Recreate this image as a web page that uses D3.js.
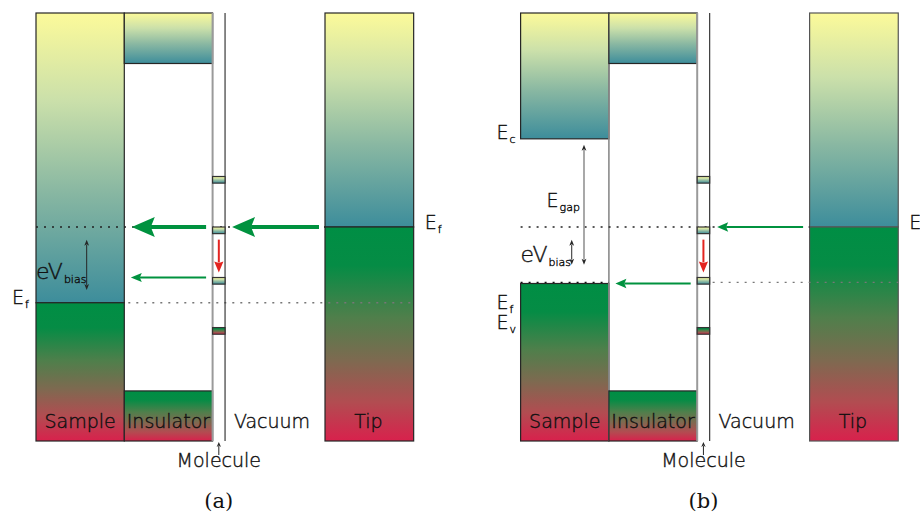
<!DOCTYPE html>
<html>
<head>
<meta charset="utf-8">
<script src="https://cdn.jsdelivr.net/npm/d3@7"></script>
<style>
  html, body { margin: 0; padding: 0; background: #fff; }
  svg { display: block; }
  text { font-family: "DejaVu Sans", "Liberation Sans", sans-serif; font-weight: 200; fill: #111; stroke: #111; stroke-width: 0.4px; }
  .cap { font-family: "DejaVu Serif", "Liberation Serif", serif; font-weight: 400; fill: #111; stroke: none; }
</style>
</head>
<body>
<svg id="chart" width="920" height="518"></svg>
<script>
// ---- Energy-level data (arbitrary energy units: 0 = bottom of diagram, 100 = top) ----
const layerNames   = ["Sample", "Insulator", "Vacuum", "Tip"];
const layerEdges   = [0, 1, 2, 2.141, 3.273, 4.277];   // sample | insulator | molecule | vacuum | tip (layer units)
const insulatorBands = [88.2, 11.7];                    // conduction-band bottom, valence-band top
const tipFermi     = 50.0;
const moleculeLevels   = [61.8, 50.0, 38.2, 26.5];      // level tops
const moleculeFilled   = [false, false, false, true];
const levelWidth   = 1.55;
const sampleFermiA = 32.3;                              // metal sample, panel (a)
const sampleBandsB = [70.6, 36.8];                      // semiconductor Ec, Ev (= Ef), panel (b)
const biasSpanA    = [47.0, 35.3];
const biasSpanB    = [47.0, 41.2];
const gapSpanB     = [69.2, 41.2];
const panelNames   = ["(a)", "(b)"];

const svg = d3.select("#chart");
const y = d3.scaleLinear().domain([0, 100]).range([441, 13]);
const x = d3.scaleLinear().domain([0, 1]).range([0, 88.3]);
const panelX = [36, 520.6];

// ---- gradients ----
const defs = svg.append("defs");
function grad(id, stops) {
  const g = defs.append("linearGradient").attr("id", id)
    .attr("x1", 0).attr("y1", 0).attr("x2", 0).attr("y2", 1);
  stops.forEach(([o, c]) => g.append("stop").attr("offset", o).attr("stop-color", c));
}
grad("empty", [[0, "#fcfa9a"], [0.3, "#cbe0aa"], [0.62, "#88b7a2"], [1, "#3d8d9b"]]);
grad("filled", [[0, "#008e44"], [0.18, "#058c45"], [0.42, "#4f7f4b"], [0.62, "#7d6a50"], [0.82, "#b24c51"], [1, "#d8214c"]]);

const dark = "#262626", grey = "#8a8a8a";
const green = "#00923f", red = "#e32420";

function box(g, x0, x1, top, bottom, fill, stroke = dark) {
  g.append("rect")
    .attr("x", x0).attr("y", y(top)).attr("width", x1 - x0).attr("height", y(bottom) - y(top))
    .attr("fill", `url(#${fill})`).attr("stroke", stroke).attr("stroke-width", 1.2);
}
function vline(g, xx, top, bottom, stroke, w) {
  g.append("line").attr("x1", xx).attr("x2", xx).attr("y1", y(top)).attr("y2", y(bottom))
    .attr("stroke", stroke).attr("stroke-width", w);
}
function dotted(g, x0, x1, e, stroke) {
  g.append("line").attr("x1", x0).attr("x2", x1).attr("y1", y(e)).attr("y2", y(e))
    .attr("stroke", stroke).attr("stroke-width", 1.3).attr("stroke-dasharray", "2,6");
}
// horizontal arrow pointing left, from xs to tip xt
function arrowLeft(g, xs, xt, e, w, len, half, notch, color) {
  const yy = y(e);
  g.append("line").attr("x1", xs).attr("x2", xt + len - notch).attr("y1", yy).attr("y2", yy)
    .attr("stroke", color).attr("stroke-width", w);
  g.append("path").attr("fill", color)
    .attr("d", `M${xt},${yy}L${xt + len},${yy - half}L${xt + len - notch},${yy}L${xt + len},${yy + half}Z`);
}
// vertical arrow with heads at the chosen ends (pixel coordinates)
function arrowV(g, xx, y0, y1, opts) {
  const { w = 1, len = 6, half = 2.4, color = dark, lineColor = color, start = false, end = true } = opts;
  const a = start ? y0 + Math.sign(y1 - y0) * (len - 1) : y0;
  const b = end ? y1 - Math.sign(y1 - y0) * (len - 1) : y1;
  g.append("line").attr("x1", xx).attr("x2", xx).attr("y1", a).attr("y2", b)
    .attr("stroke", lineColor).attr("stroke-width", w);
  const head = (tip, dir) => g.append("path").attr("fill", color)
    .attr("d", `M${xx},${tip}L${xx - half},${tip - dir * len}L${xx},${tip - dir * (len - 1.5)}L${xx + half},${tip - dir * len}Z`);
  if (end) head(y1, Math.sign(y1 - y0));
  if (start) head(y0, Math.sign(y0 - y1));
}
function label(g, xx, yy, main, sub, size, subSize, anchor = "start") {
  const t = g.append("text").attr("x", xx).attr("y", yy).attr("font-size", size).attr("text-anchor", anchor);
  t.append("tspan").text(main);
  if (sub) t.append("tspan").attr("font-size", subSize).attr("dx", 1).attr("dy", 4).text(sub);
  return t;
}

panelNames.forEach((name, p) => {
  const g = svg.append("g").attr("transform", `translate(${panelX[p]},0)`);
  const [xS0, xS1, xI1, xM1, xT0, xT1] = layerEdges.map(x);
  const xM0 = xI1;

  // ---- sample ----
  if (p === 0) {
    box(g, xS0, xS1, 100, sampleFermiA, "empty");
    box(g, xS0, xS1, sampleFermiA, 0, "filled");
  } else {
    box(g, xS0, xS1, 100, sampleBandsB[0], "empty");
    box(g, xS0, xS1, sampleBandsB[1], 0, "filled");
    vline(g, xS1, 100, 0, grey, 1.6);
  }

  // ---- insulator ----
  box(g, xS1, xI1, 100, insulatorBands[0], "empty");
  box(g, xS1, xI1, insulatorBands[1], 0, "filled");

  // ---- tip ----
  box(g, xT0, xT1, 100, tipFermi, "empty", p === 1 ? "#555" : dark);
  box(g, xT0, xT1, tipFermi, 0, "filled", p === 1 ? "#555" : dark);

  // ---- dotted reference lines ----
  if (p === 0) {
    dotted(g, xS0, xT0, tipFermi, "#222");
    dotted(g, xS1 + 4, xT1, sampleFermiA, "#777");
  } else {
    dotted(g, xS0, xT0, tipFermi, "#222");
    dotted(g, xS0, xS1, sampleBandsB[1] + 0.25, "#111");
    dotted(g, xM1 + 3, xT1, sampleBandsB[1] + 0.25, "#777");
  }

  // ---- molecule column and levels ----
  vline(g, xM0, 100, 0, "#9a9a9a", 2);
  vline(g, xM1, 100, 0, "#3a3a3a", 1.2);
  moleculeLevels.forEach((e, i) => {
    box(g, xM0, xM1, e, e - levelWidth, moleculeFilled[i] ? "filled" : "empty", "#333");
  });

  // ---- tunnelling arrows ----
  const xMid = (xM0 + xM1) / 2;
  if (p === 0) {
    arrowLeft(g, xM0 - 6.5, xS1 + 7.5, tipFermi, 4, 23, 10, 4, green);
    arrowLeft(g, xT0 - 6, xM1 + 7, tipFermi, 4, 23, 10, 4, green);
    arrowLeft(g, xM0 - 6.5, xS1 + 6.5, moleculeLevels[2], 2, 11, 4.6, 2, green);
  } else {
    arrowLeft(g, xT0 - 6.5, xM1 + 7.5, tipFermi, 2.2, 11, 4.8, 2, green);
    arrowLeft(g, xM0 - 6.5, xS1 + 6.5, sampleBandsB[1], 2.2, 11, 4.8, 2, green);
  }
  arrowV(g, xMid, y(moleculeLevels[1] - levelWidth) + 6, y(moleculeLevels[2]) - 5,
    { w: 2, len: 11, half: 4.6, color: red });

  // ---- energy annotations ----
  if (p === 0) {
    arrowV(g, x(0.574), y(biasSpanA[0]), y(biasSpanA[1]), { start: true, end: true });
    label(g, 0, 279, "eV", "bias", 22, 11);
    label(g, -24, 303.5, "E", "f", 19, 11);
    label(g, xT1 + 11, 228.5, "E", "f", 19, 11);
  } else {
    arrowV(g, x(0.718), y(gapSpanB[0]), y(gapSpanB[1]), { start: true, end: true, lineColor: "#8c8c8c", w: 1.5 });
    arrowV(g, x(0.579), y(biasSpanB[0]), y(biasSpanB[1]), { start: true, end: true });
    label(g, -24, 138.5, "E", "c", 19, 11);
    label(g, 26, 206.5, "E", "gap", 19, 11);
    label(g, 0, 261.5, "eV", "bias", 22, 11);
    label(g, -24, 308.5, "E", "f", 19, 11);
    label(g, -24, 328.5, "E", "v", 19, 11);
    label(g, xT1 + 11, 228.5, "E", "f", 19, 11);
  }

  // ---- layer names ----
  const centers = [(xS0 + xS1) / 2, (xS1 + xI1) / 2, (xM1 + xT0) / 2 - 3, (xT0 + xT1) / 2 - 1];
  layerNames.forEach((n, i) => {
    g.append("text").attr("x", centers[i]).attr("y", 428).attr("text-anchor", "middle")
      .attr("font-size", 19).text(n);
  });
  arrowV(g, xMid, 455, 442, { len: 5, half: 2.2 });
  g.append("text").attr("x", xMid).attr("y", 467).attr("text-anchor", "middle")
    .attr("font-size", 19).text("Molecule");

  g.append("text").attr("class", "cap").attr("x", xMid).attr("y", 508).attr("text-anchor", "middle")
    .attr("font-size", 21).text(name);
});
</script>
</body>
</html>
